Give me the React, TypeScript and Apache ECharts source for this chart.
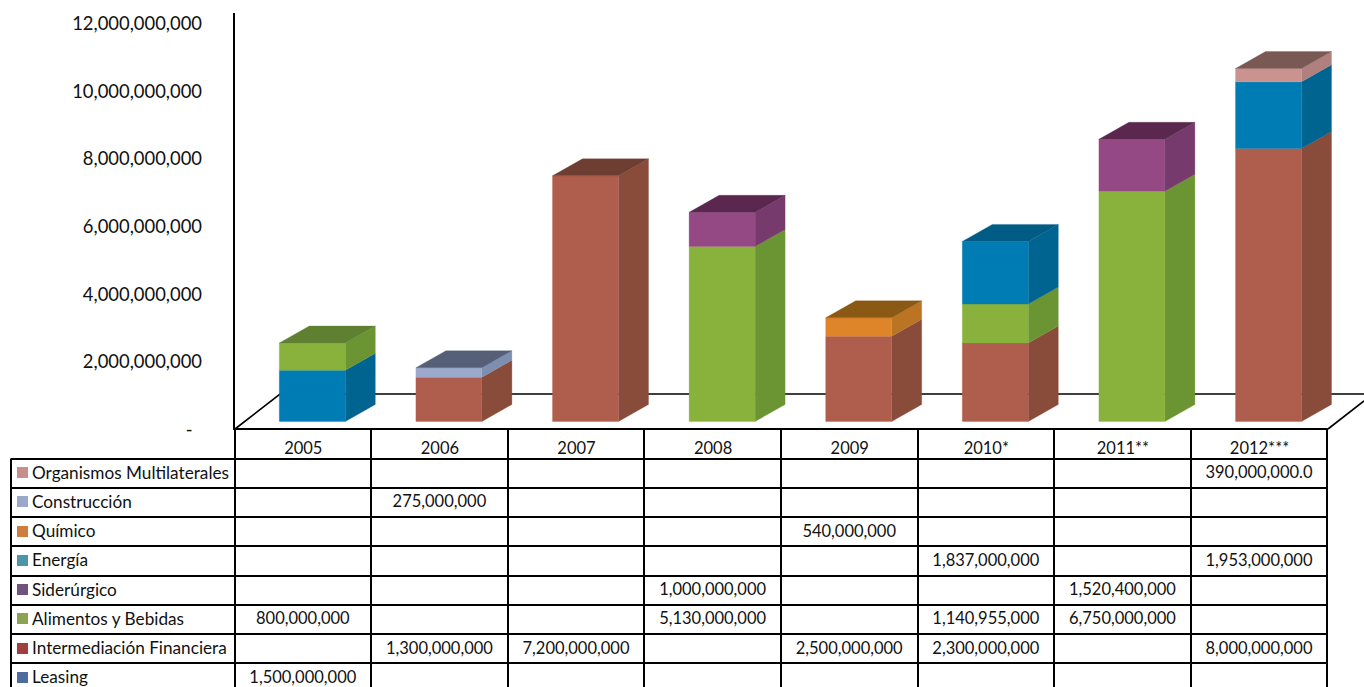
import React, { useEffect, useRef } from "react";
import * as echarts from "echarts";

const categories = ["2005", "2006", "2007", "2008", "2009", "2010*", "2011**", "2012***"];

// Stack order: bottom to top
const leasing = [1500000000, null, null, null, null, null, null, null];
const intermediacion = [null, 1300000000, 7200000000, null, 2500000000, 2300000000, null, 8000000000];
const alimentos = [800000000, null, null, 5130000000, null, 1140955000, 6750000000, null];
const siderurgico = [null, null, null, 1000000000, null, null, 1520400000, null];
const energia = [null, null, null, null, null, 1837000000, null, 1953000000];
const quimico = [null, null, null, null, 540000000, null, null, null];
const construccion = [null, 275000000, null, null, null, null, null, null];
const organismos = [null, null, null, null, null, null, null, 390000000];

const stackSeries = [
  { name: "Leasing", values: leasing, key: "#4E6C9E", front: "#007CB5", side: "#006491", top: "#005B85", decimals: 0 },
  { name: "Intermediación Financiera", values: intermediacion, key: "#A13F3E", front: "#AF5D4C", side: "#894C3A", top: "#6F3E32", decimals: 0 },
  { name: "Alimentos y Bebidas", values: alimentos, key: "#8CA354", front: "#88B23C", side: "#6B9432", top: "#5E8030", decimals: 0 },
  { name: "Siderúrgico", values: siderurgico, key: "#70527F", front: "#944984", side: "#773A6C", top: "#5A284E", decimals: 0 },
  { name: "Energía", values: energia, key: "#4C95A8", front: "#007CB5", side: "#006491", top: "#005B85", decimals: 0 },
  { name: "Químico", values: quimico, key: "#CE7D3F", front: "#DE8429", side: "#BB7424", top: "#8A5A14", decimals: 0 },
  { name: "Construcción", values: construccion, key: "#9AA8C9", front: "#9BA9CC", side: "#7E8EB0", top: "#565F78", decimals: 0 },
  { name: "Organismos Multilaterales", values: organismos, key: "#C78E8B", front: "#CB9390", side: "#AF807E", top: "#7A5955", decimals: 1 },
];

const FONT = "Lato";
const TABLE_LEFT = 11;
const COL_LEFT = 235;
const COL_W = 136.6;
const TABLE_TOP = 429;
const HEADER_BOTTOM = 458.5;
const ROW_H = 29.25;
const PAGE_H = 687;

const BAR_OFFSET = -24; // front face left, relative to the category centre
const BAR_W = 66;
const DX = 30;
const DY = 17;

const fmt = (v: number, d = 0) =>
  v.toLocaleString("en-US", { minimumFractionDigits: d, maximumFractionDigits: d });

function tableGraphics() {
  const els: any[] = [];
  const line = (x1: number, y1: number, x2: number, y2: number, w = 2) =>
    els.push({ type: "line", silent: true, z: 10, shape: { x1, y1, x2, y2 }, style: { stroke: "#000", lineWidth: w } });
  const n = categories.length;
  const right = COL_LEFT + n * COL_W;
  const rows = [...stackSeries].reverse();

  line(234, 13, 234, TABLE_TOP + 1);
  for (let c = 0; c <= n; c++) {
    const x = Math.floor(COL_LEFT + c * COL_W);
    line(x, TABLE_TOP, x, PAGE_H);
  }
  line(TABLE_LEFT, HEADER_BOTTOM, TABLE_LEFT, PAGE_H);
  line(COL_LEFT, TABLE_TOP, right, TABLE_TOP);
  rows.forEach((_, r) => {
    const y = Math.round(HEADER_BOTTOM + r * ROW_H);
    line(TABLE_LEFT, y, right, y);
  });
  rows.forEach((s, r) => {
    const cy = HEADER_BOTTOM + (r + 0.5) * ROW_H - 1;
    els.push({ type: "rect", silent: true, z: 10, shape: { x: 17, y: Math.round(cy - 5), width: 11, height: 11 }, style: { fill: s.key } });
    els.push({
      type: "text", silent: true, z: 10, x: 32, y: cy,
      style: { text: s.name, fill: "#111", font: `17.2px ${FONT}`, textAlign: "left", textVerticalAlign: "middle" },
    });
    s.values.forEach((v, c) => {
      if (v == null) return;
      els.push({
        type: "text", silent: true, z: 10, x: COL_LEFT + (c + 0.5) * COL_W - 0.5, y: cy,
        style: { text: fmt(v, s.decimals), fill: "#111", font: `16.5px ${FONT}`, textAlign: "center", textVerticalAlign: "middle" },
      });
    });
  });
  return els;
}

function floorGraphics() {
  return {
    type: "polyline",
    silent: true,
    z: 0,
    shape: { points: [[COL_LEFT, TABLE_TOP], [280, 394], [1364, 394]] },
    style: { stroke: "#000", lineWidth: 1.6, fill: "none" },
  };
}

function buildSeries() {
  const base = categories.map(() => 0);
  const tops = categories.map((_, i) => {
    let t = -1;
    stackSeries.forEach((s, si) => { if (s.values[i] != null) t = si; });
    return t;
  });
  return stackSeries.map((s, si) => {
    const data: any[] = [];
    s.values.forEach((v, i) => {
      if (v == null) return;
      data.push([i, base[i], base[i] + v, tops[i] === si ? 1 : 0]);
      base[i] += v;
    });
    return {
      type: "custom",
      name: s.name,
      xAxisIndex: 1,
      yAxisIndex: 1,
      z: 3,
      data,
      encode: { x: 0, y: [1, 2] },
      clip: false,
      renderItem: (_p: any, api: any) => {
        const [cx, y0] = api.coord([api.value(0), api.value(1)]);
        const y1 = api.coord([api.value(0), api.value(2)])[1];
        const x0 = cx + BAR_OFFSET;
        const x1 = x0 + BAR_W;
        const poly = (points: number[][], fill: string) => ({
          type: "polygon", shape: { points }, style: { fill, stroke: fill, lineWidth: 0.3 },
        });
        const children: any[] = [
          poly([[x1, y0], [x1 + DX, y0 - DY], [x1 + DX, y1 - DY], [x1, y1]], s.side),
          poly([[x0, y0], [x1, y0], [x1, y1], [x0, y1]], s.front),
        ];
        if (api.value(3) === 1) {
          children.push(poly([[x0, y1], [x1, y1], [x1 + DX, y1 - DY], [x0 + DX, y1 - DY]], s.top));
        }
        return { type: "group", children };
      },
    };
  });
}

export default function App() {
  const ref = useRef<HTMLDivElement>(null);
  useEffect(() => {
    const chart = echarts.init(ref.current!, undefined, { renderer: "svg" });
    const n = categories.length;
    const diag = [
      { type: "line", silent: true, z: 0, shape: { x1: 1328, y1: 429, x2: 1364, y2: 401 }, style: { stroke: "#000", lineWidth: 1.6 } },
    ];
    chart.setOption({
      animation: false,
      backgroundColor: "#fff",
      grid: [
        { left: COL_LEFT, top: 23, width: n * COL_W, height: 406, containLabel: false },
        { left: COL_LEFT, top: 12, width: n * COL_W, height: 409.5, containLabel: false },
      ],
      xAxis: [
        {
          type: "category", gridIndex: 0, data: categories, position: "bottom",
          axisLine: { show: false }, axisTick: { show: false },
          axisLabel: { color: "#111", fontFamily: FONT, fontSize: 16.5, margin: 10, interval: 0 },
        },
        { type: "category", gridIndex: 1, data: categories, show: false },
      ],
      yAxis: [
        {
          type: "value", gridIndex: 0, min: 0, max: 12000000000, interval: 2000000000,
          axisLine: { show: false }, axisTick: { show: false }, splitLine: { show: false },
          axisLabel: {
            color: "#111", fontFamily: FONT, fontSize: 18.4, margin: 33,
            formatter: (v: number) => (v === 0 ? "-\u00A0\u00A0" : fmt(v)),
          },
        },
        { type: "value", gridIndex: 1, min: 0, max: 12000000000, show: false },
      ],
      graphic: { elements: [floorGraphics(), ...diag, ...tableGraphics()] },
      series: buildSeries(),
    });
    return () => chart.dispose();
  }, []);
  return <div ref={ref} style={{ position: "fixed", left: 0, top: 0, width: 1364, height: 687 }} />;
}
